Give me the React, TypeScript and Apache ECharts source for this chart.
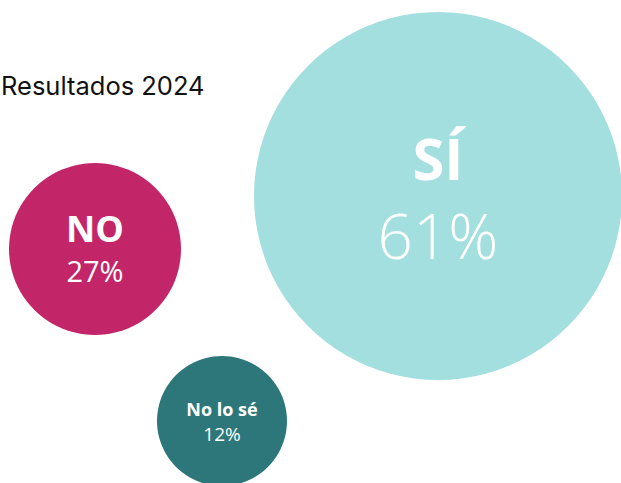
import React, { useEffect, useRef } from "react";
import * as echarts from "echarts";

const categories = ["SÍ", "NO", "No lo sé"];
const percentages = [61, 27, 12];
const titleText = "Resultados 2024";

// layout (pixel-space coordinates of the hidden axes)
const bubbleX = [438, 95, 222];
const bubbleY = [196, 249, 421];
const bubbleDiameters = [368, 172, 130];
const bubbleColors = ["#A3DFDE", "#C22669", "#2D777A"];
const nameSizes = [58, 36, 18];
const pctSizes = [62, 29, 19];
const pctWeights = [300, 400, 400];
const lineHeights = [77, 42, 25];

export default function App() {
  const ref = useRef<HTMLDivElement>(null);
  useEffect(() => {
    if (!ref.current) return;
    const chart = echarts.init(ref.current, null, { renderer: "svg" });
    const data = categories.map((c, i) => ({
      name: c,
      value: [bubbleX[i], bubbleY[i], percentages[i]],
      symbolSize: bubbleDiameters[i],
      itemStyle: { color: bubbleColors[i] },
      label: {
        show: true,
        position: "inside",
        formatter: `{n|${c}}\n{p|${percentages[i]}%}`,
        rich: {
          n: {
            color: "#fff",
            fontFamily: "Open Sans",
            fontWeight: "bold",
            fontSize: nameSizes[i],
            lineHeight: lineHeights[i],
            align: "center",
          },
          p: {
            color: "#fff",
            fontFamily: "Open Sans",
            fontWeight: pctWeights[i],
            fontSize: pctSizes[i],
            lineHeight: lineHeights[i],
            align: "center",
          },
        },
      },
    }));
    chart.setOption({
      animation: false,
      backgroundColor: "#fff",
      title: {
        text: titleText,
        left: -4,
        top: 67,
        textStyle: {
          fontFamily: "Inter",
          fontWeight: "normal",
          fontSize: 25.5,
          color: "#111",
        },
      },
      grid: { left: 0, right: 0, top: 0, bottom: 0 },
      xAxis: { type: "value", min: 0, max: 621, show: false },
      yAxis: { type: "value", min: 0, max: 483, inverse: true, show: false },
      series: [
        {
          type: "scatter",
          data,
          itemStyle: { opacity: 1 },
        },
      ],
    });
    return () => chart.dispose();
  }, []);
  return (
    <div
      ref={ref}
      style={{ position: "fixed", left: 0, top: 0, width: 621, height: 483 }}
    />
  );
}
